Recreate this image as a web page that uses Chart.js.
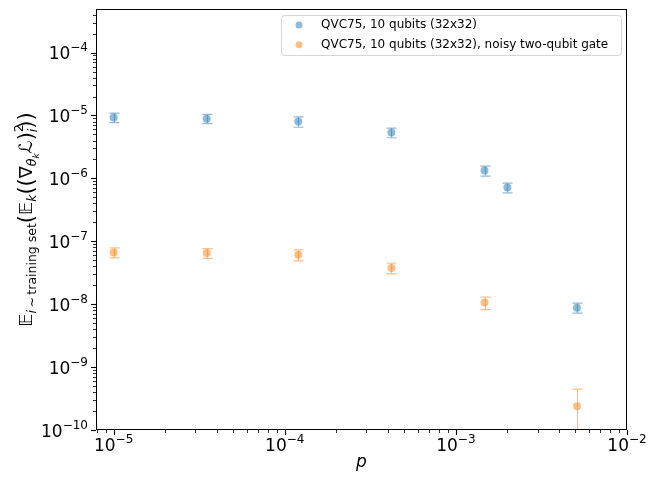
<!DOCTYPE html>
<html>
<head>
<meta charset="utf-8">
<script src="https://cdn.jsdelivr.net/npm/chart.js@4"></script>
<style>body{margin:0;background:#fff}</style>
</head>
<body>
<canvas id="chart" width="650" height="477"></canvas>
<script>
'use strict'
// noise rate p on x
const pBlue = [1e-5, 3.5e-5, 1.2e-4, 4.2e-4, 1.47e-3, 2.0e-3, 5.1e-3];
const valBlue = [9.3e-6, 8.9e-6, 8.0e-6, 5.36e-6, 1.33e-6, 7.15e-7, 8.8e-9];
const errBlue = [1.6e-6, 1.5e-6, 1.5e-6, 0.93e-6, 0.24e-6, 1.25e-7, 1.6e-9];
const pOrange = [1e-5, 3.5e-5, 1.2e-4, 4.2e-4, 1.47e-3, 5.1e-3];
const valOrange = [6.65e-8, 6.5e-8, 6.1e-8, 3.76e-8, 1.06e-8, 2.38e-10];
const errOrange = [1.2e-8, 1.15e-8, 1.2e-8, 0.72e-8, 2.4e-9, 2.07e-10];
const labels = ['QVC75, 10 qubits (32x32)', 'QVC75, 10 qubits (32x32), noisy two-qubit gate'];
const xTickExps = [-5, -4, -3, -2];
const yTickExps = [-10, -9, -8, -7, -6, -5, -4];
const xLabel = 'p';

const blue = 'rgba(31,119,180,0.5)';
const orange = 'rgba(255,127,14,0.5)';
const FONT = '"DejaVu Sans", sans-serif';

function toPoints(xs, ys, es) {
    return xs.map((x, i) => ({ x: x, y: ys[i], err: es[i] }));
}

const background = {
    id: 'background',
    beforeDraw(chart) {
        const c = chart.ctx;
        c.save();
        c.fillStyle = '#fff';
        c.fillRect(0, 0, chart.width, chart.height);
        c.restore();
    }
};

const errorBars = {
    id: 'errorBars',
    beforeDatasetsDraw(chart) {
        const c = chart.ctx, a = chart.chartArea;
        const xs = chart.scales.x, ys = chart.scales.y;
        c.save();
        c.beginPath();
        c.rect(a.left, a.top, a.right - a.left, a.bottom - a.top);
        c.clip();
        chart.data.datasets.forEach(ds => {
            c.strokeStyle = ds.backgroundColor;
            c.lineWidth = 1.2;
            ds.data.forEach(d => {
                const px = Math.round(xs.getPixelForValue(d.x)) + 0.5;
                const hi = ys.getPixelForValue(d.y + d.err);
                const low = d.y - d.err;
                const lo = low > 0 ? ys.getPixelForValue(low) : a.bottom + 10;
                c.beginPath();
                c.moveTo(px, hi);
                c.lineTo(px, lo);
                c.moveTo(px - 5, hi);
                c.lineTo(px + 5, hi);
                c.moveTo(px - 5, lo);
                c.lineTo(px + 5, lo);
                c.stroke();
            });
        });
        c.restore();
    }
};

function drawPow(c, exp, x, y, align) {
    // "10" with a raised exponent, x is anchor
    const base = '10', sup = '\u2212' + Math.abs(exp);
    c.font = '17px ' + FONT;
    const wb = c.measureText(base).width;
    c.font = '12px ' + FONT;
    const ws = c.measureText(sup).width;
    const w = wb + ws;
    let left = align === 'center' ? x - w / 2 : x - w;
    c.textAlign = 'left';
    c.textBaseline = 'alphabetic';
    c.font = '17px ' + FONT;
    c.fillText(base, left, y);
    c.font = '12px ' + FONT;
    c.fillText(sup, left + wb, y - 8);
}

const axes = {
    id: 'axes',
    afterDraw(chart) {
        const c = chart.ctx, a = chart.chartArea;
        const xs = chart.scales.x, ys = chart.scales.y;
        c.save();
        c.strokeStyle = '#000';
        c.fillStyle = '#000';
        c.lineWidth = 1;
        c.strokeRect(a.left + 0.5, a.top + 0.5, a.right - a.left - 1, a.bottom - a.top - 1);

        // x ticks
        for (let e = -6; e <= -2; e++) {
            for (let k = 1; k <= 9; k++) {
                const v = k * Math.pow(10, e);
                if (v < xs.min || v > xs.max * 1.0001) continue;
                const px = Math.round(xs.getPixelForValue(v)) + 0.5;
                c.lineWidth = k === 1 ? 1.1 : 0.8;
                c.beginPath();
                c.moveTo(px, a.bottom);
                c.lineTo(px, a.bottom + (k === 1 ? 5 : 3));
                c.stroke();
            }
        }
        // y ticks
        for (let e = -10; e <= -4; e++) {
            for (let k = 1; k <= 9; k++) {
                const v = k * Math.pow(10, e);
                if (v < ys.min * 0.9999 || v > ys.max) continue;
                const py = Math.round(ys.getPixelForValue(v)) + 0.5;
                c.lineWidth = k === 1 ? 1.1 : 0.8;
                c.beginPath();
                c.moveTo(a.left, py);
                c.lineTo(a.left - (k === 1 ? 5 : 3), py);
                c.stroke();
            }
        }
        xTickExps.forEach(e => {
            drawPow(c, e, xs.getPixelForValue(Math.pow(10, e)), a.bottom + 21, 'center');
        });
        yTickExps.forEach(e => {
            drawPow(c, e, a.left - 8, ys.getPixelForValue(Math.pow(10, e)) + 6.5, 'right');
        });

        // x label
        c.font = 'italic 17px ' + FONT;
        c.textAlign = 'center';
        c.fillText(xLabel, (a.left + a.right) / 2, 467);

        // y label, built from pieces so sub/superscripts sit right
        const parts = [
            { t: '\u{1D53C}', s: 18, dy: 0 },
            { t: 'i', s: 12.5, dy: 4, it: true },
            { t: '\u2009\u223C\u2009', s: 12.5, dy: 4 },
            { t: 'training set', s: 12.5, dy: 4 },
            { t: '(', s: 21, dy: 1 },
            { t: '\u{1D53C}', s: 18, dy: 0 },
            { t: 'k', s: 12.5, dy: 4, it: true },
            { t: '((', s: 21, dy: 1 },
            { t: '\u2207', s: 18, dy: 0 },
            { t: '\u03B8', s: 12.5, dy: 4, it: true },
            { t: 'k', s: 9, dy: 7, it: true },
            { t: '\u2112', s: 18, dy: 0, it: true },
            { t: ')', s: 21, dy: 1 },
            { t: '2', s: 12.5, dy: -9, stack: true },
            { t: 'i', s: 12.5, dy: 5, it: true },
            { t: '))', s: 21, dy: 1 }
        ];
        let total = 0;
        const widths = parts.map(p => {
            c.font = (p.it ? 'italic ' : '') + p.s + 'px ' + FONT;
            const w = c.measureText(p.t).width;
            if (!p.stack) total += w;
            return w;
        });
        c.translate(26, (a.top + a.bottom) / 2);
        c.rotate(-Math.PI / 2);
        c.textAlign = 'left';
        let cx = -total / 2;
        parts.forEach((p, i) => {
            c.font = (p.it ? 'italic ' : '') + p.s + 'px ' + FONT;
            c.fillText(p.t, cx, 6 + p.dy);
            if (!p.stack) cx += widths[i];
        });
        c.restore();
    }
};

const legend = {
    id: 'customLegend',
    afterDraw(chart) {
        const c = chart.ctx;
        c.save();
        c.fillStyle = 'rgba(255,255,255,0.8)';
        c.strokeStyle = '#d6d6d6';
        c.lineWidth = 1;
        c.beginPath();
        c.roundRect(281.5, 15.5, 340, 40, 3);
        c.fill();
        c.stroke();
        chart.data.datasets.forEach((ds, i) => {
            const y = 25 + i * 19.7;
            c.fillStyle = ds.backgroundColor;
            c.beginPath();
            c.arc(299, y, 3.5, 0, Math.PI * 2);
            c.fill();
            c.fillStyle = '#000';
            c.font = '12px ' + FONT;
            c.textBaseline = 'middle';
            c.fillText(ds.label, 321, y);
        });
        c.restore();
    }
};

new Chart(document.getElementById('chart'), {
    type: 'scatter',
    data: {
        datasets: [
            { label: labels[0], data: toPoints(pBlue, valBlue, errBlue), backgroundColor: blue, borderWidth: 0, pointRadius: 4 },
            { label: labels[1], data: toPoints(pOrange, valOrange, errOrange), backgroundColor: orange, borderWidth: 0, pointRadius: 4 }
        ]
    },
    options: {
        responsive: false,
        animation: false,
        layout: { padding: { left: 96, right: 23, top: 9, bottom: 47 } },
        plugins: { legend: { display: false }, tooltip: { enabled: false } },
        scales: {
            x: { type: 'logarithmic', min: 7.89e-6, max: 1e-2, display: false },
            y: { type: 'logarithmic', min: 1e-10, max: 4.93e-4, display: false }
        }
    },
    plugins: [background, errorBars, axes, legend]
});
</script>
</body>
</html>
